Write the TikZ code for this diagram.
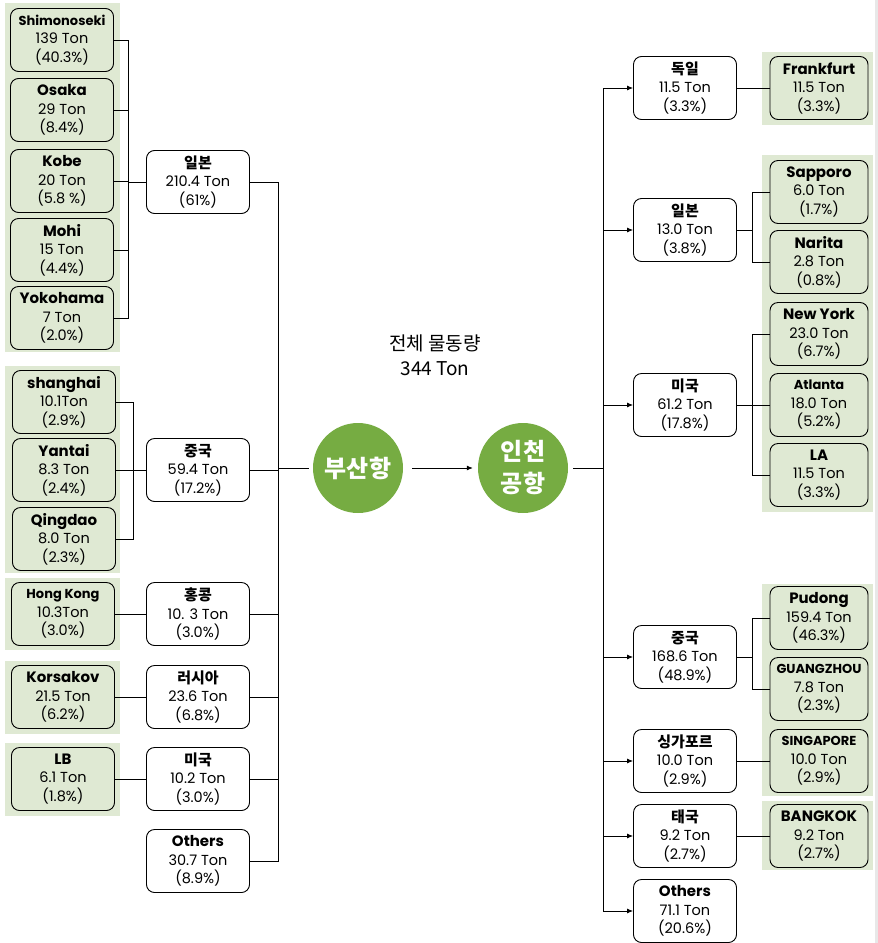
\documentclass[tikz,border=0pt]{standalone}
\usepackage{fontspec}
\setmainfont{Poppins}
\newfontfamily\kr{Noto Sans CJK KR}
\usetikzlibrary{positioning,arrows.meta}

\definecolor{leafgreen}{RGB}{223,233,211}
\definecolor{portgreen}{RGB}{118,172,66}
\definecolor{edgegray}{RGB}{232,232,232}

% first line of a box
\newcommand\kd[1]{{\kr\bfseries\fontsize{15}{19}\selectfont #1}}
\newcommand\hd[1]{{\bfseries\fontsize{15}{19}\selectfont #1}}
\newcommand\hdsm[1]{{\bfseries\fontsize{13}{19}\selectfont #1}}

\begin{document}
\begin{tikzpicture}
  [x=1pt,y=-1pt,
   cbox/.style={draw,rounded corners=8pt,fill=white,minimum width=103pt,
     minimum height=63pt,align=center,inner sep=1pt,line width=0.9pt,
     font=\fontsize{14.5}{18.5}\selectfont},
   lbox/.style={cbox,fill=leafgreen},
   rbox/.style={lbox,minimum width=98pt},
   port/.style={circle,fill=portgreen,text=white,minimum size=90pt,inner sep=0pt,
     align=center,font=\kr\bfseries\fontsize{24}{32}\selectfont},
   link/.style={line width=0.8pt}]
  \useasboundingbox (0,0) rectangle (878,943);
  \fill[edgegray] (875,0) rectangle (878,943);

  % green panels
  \fill[leafgreen] (5,3) rectangle (120,352);
  \fill[leafgreen] (5,366) rectangle (120,573);
  \fill[leafgreen] (5,578) rectangle (120,650);
  \fill[leafgreen] (5,661) rectangle (120,734);
  \fill[leafgreen] (5,743) rectangle (120,816);
  \fill[leafgreen] (762,52) rectangle (873,125);
  \fill[leafgreen] (762,155) rectangle (873,512);
  \fill[leafgreen] (762,584) rectangle (873,796);
  \fill[leafgreen] (762,801) rectangle (873,870);

  % Busan side, leaves
  \node[lbox] (shim)  at (62,40)  {\hdsm{Shimonoseki}\\139 Ton\\(40.3\%)};
  \node[lbox] (osaka) at (62,110) {\hd{Osaka}\\29 Ton\\(8.4\%)};
  \node[lbox] (kobe)  at (62,181) {\hd{Kobe}\\20 Ton\\(5.8 \%)};
  \node[lbox] (mohi)  at (62,250) {\hd{Mohi}\\15 Ton\\(4.4\%)};
  \node[lbox] (yoko)  at (62,318) {\hd{Yokohama}\\7 Ton\\(2.0\%)};
  \node[lbox] (shan)  at (64,402) {\hd{shanghai}\\10.1Ton\\(2.9\%)};
  \node[lbox] (yant)  at (64,470) {\hd{Yantai}\\8.3 Ton\\(2.4\%)};
  \node[lbox] (qing)  at (64,539) {\hd{Qingdao}\\8.0 Ton\\(2.3\%)};
  \node[lbox] (hkp)   at (63,614) {\hdsm{Hong Kong}\\10.3Ton\\(3.0\%)};
  \node[lbox] (kor)   at (63,697) {\hd{Korsakov}\\21.5 Ton\\(6.2\%)};
  \node[lbox] (lb)    at (63,779) {\hd{LB}\\6.1 Ton\\(1.8\%)};

  % Busan side, countries
  \node[cbox] (jp)  at (198,182) {\kd{일본}\\210.4 Ton\\(61\%)};
  \node[cbox] (cn)  at (198,470) {\kd{중국}\\59.4 Ton\\(17.2\%)};
  \node[cbox] (hk)  at (198,614) {\kd{홍콩}\\10. 3 Ton\\(3.0\%)};
  \node[cbox] (ru)  at (198,697) {\kd{러시아}\\23.6 Ton\\(6.8\%)};
  \node[cbox] (us)  at (198,779) {\kd{미국}\\10.2 Ton\\(3.0\%)};
  \node[cbox] (oth) at (198,861) {\hd{Others}\\30.7 Ton\\(8.9\%)};

  % ports
  \node[port] (busan)   at (358,468) {부산항};
  \node[port] (incheon) at (523,468) {인천\\공항};
  \node[align=center,font=\kr\fontsize{19}{25}\selectfont] (total) at (435,355)
    {전체 물동량\\344 Ton};

  % Incheon side, countries
  \node[cbox] (de)   at (685,88)  {\kd{독일}\\11.5 Ton\\(3.3\%)};
  \node[cbox] (jpr)  at (685,230) {\kd{일본}\\13.0 Ton\\(3.8\%)};
  \node[cbox] (usr)  at (685,405) {\kd{미국}\\61.2 Ton\\(17.8\%)};
  \node[cbox] (cnr)  at (685,657) {\kd{중국}\\168.6 Ton\\(48.9\%)};
  \node[cbox] (sg)   at (685,761) {\kd{싱가포르}\\10.0 Ton\\(2.9\%)};
  \node[cbox] (th)   at (685,836) {\kd{태국}\\9.2 Ton\\(2.7\%)};
  \node[cbox] (othr) at (685,911) {\hd{Others}\\71.1 Ton\\(20.6\%)};

  % Incheon side, leaves
  \node[rbox] (fra) at (819,88)  {\hd{Frankfurt}\\11.5 Ton\\(3.3\%)};
  \node[rbox] (sap) at (819,192) {\hd{Sapporo}\\6.0 Ton\\(1.7\%)};
  \node[rbox] (nar) at (819,262) {\hd{Narita}\\2.8 Ton\\(0.8\%)};
  \node[rbox] (ny)  at (819,334) {\hd{New York}\\23.0 Ton\\(6.7\%)};
  \node[rbox] (atl) at (819,405) {\hdsm{Atlanta}\\18.0 Ton\\(5.2\%)};
  \node[rbox] (la)  at (819,475) {\hd{LA}\\11.5 Ton\\(3.3\%)};
  \node[rbox] (pud) at (819,618) {\hd{Pudong}\\159.4 Ton\\(46.3\%)};
  \node[rbox] (gz)  at (819,689) {\hdsm{GUANGZHOU}\\7.8 Ton\\(2.3\%)};
  \node[rbox] (sgp) at (819,761) {\hdsm{SINGAPORE}\\10.0 Ton\\(2.9\%)};
  \node[rbox] (bkk) at (819,836) {\hd{BANGKOK}\\9.2 Ton\\(2.7\%)};

  % bus points
  \coordinate (jbus)  at (128,182);
  \coordinate (cbus)  at (133,470);
  \coordinate (lbus)  at (278,468);
  \coordinate (rbus)  at (603,468);
  \coordinate (jrbus) at (752,230);
  \coordinate (urbus) at (752,405);
  \coordinate (crbus) at (752,657);

  % connectors
  \foreach \from in {shim,osaka,kobe,mohi,yoko}
    \draw[link] (\from.east) -| (jbus);
  \foreach \from in {shan,yant,qing}
    \draw[link] (\from.east) -| (cbus);
  \draw[link] (jbus) -- (jp.west);
  \draw[link] (cbus) -- (cn.west);
  \foreach \from/\to in {hkp/hk,kor/ru,lb/us,de/fra,sg/sgp,th/bkk}
    \draw[link] (\from) -- (\to);

  \foreach \from in {jp,cn,hk,ru,us,oth}
    \draw[link] (\from.east) -| (lbus);
  \draw[link,shorten >=4pt] (lbus) -- (busan);
  \draw[link,-{Latex[length=6pt,width=5pt]},shorten <=9pt,shorten >=5pt] (busan) -- (incheon);
  \draw[link,shorten <=5pt] (incheon) -- (rbus);
  \foreach \to in {de,jpr,usr,cnr,sg,th,othr}
    \draw[link,-{Latex[length=6pt,width=5pt]}] (rbus) |- (\to.west);

  \draw[link] (jpr) -- (jrbus);
  \draw[link] (usr) -- (urbus);
  \draw[link] (cnr) -- (crbus);
  \foreach \to in {sap,nar}
    \draw[link] (jrbus) |- (\to.west);
  \foreach \to in {ny,atl,la}
    \draw[link] (urbus) |- (\to.west);
  \foreach \to in {pud,gz}
    \draw[link] (crbus) |- (\to.west);

\end{tikzpicture}
\end{document}
